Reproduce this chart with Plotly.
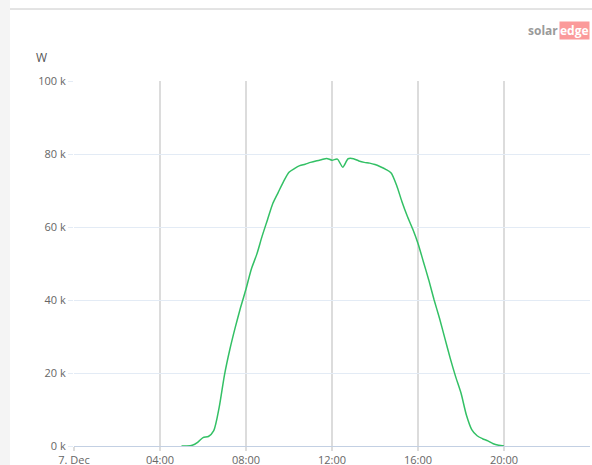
import plotly.graph_objects as go

# Hours of the day (7 Dec), 15-minute samples
hours = [5.00, 5.25, 5.50, 5.75, 6.00, 6.25, 6.50, 6.75, 7.00, 7.25, 7.50, 7.75,
         8.00, 8.25, 8.50, 8.75, 9.00, 9.25, 9.50, 9.75, 10.00, 10.25, 10.50, 10.75,
         11.00, 11.25, 11.50, 11.75, 12.00, 12.25, 12.50, 12.75, 13.00, 13.25, 13.50, 13.75,
         14.00, 14.25, 14.50, 14.75, 15.00, 15.25, 15.50, 15.75, 16.00, 16.25, 16.50, 16.75,
         17.00, 17.25, 17.50, 17.75, 18.00, 18.25, 18.50, 18.75, 19.00, 19.25, 19.50, 19.75, 20.00]
# Power in W
power_w = [0, 0, 200, 1000, 2300, 2600, 4200, 10500, 19500, 26500, 32500, 38000,
           43000, 48500, 52500, 57500, 62000, 66500, 69500, 72500, 75000, 76000, 76800, 77200,
           77700, 78100, 78400, 78800, 78300, 78600, 76400, 78700, 78700, 78100, 77700, 77500,
           77100, 76500, 75800, 74800, 71500, 67000, 63000, 59500, 55500, 50500, 45500, 40000,
           35000, 29500, 24000, 19000, 14500, 8500, 4500, 2800, 2000, 1400, 600, 200, 0]

x_tick_vals = [0, 4, 8, 12, 16, 20]
x_tick_text = ["7. Dec", "04:00", "08:00", "12:00", "16:00", "20:00"]
y_tick_vals = [0, 20000, 40000, 60000, 80000, 100000]
y_tick_text = ["0 k", "20 k", "40 k", "60 k", "80 k", "100 k"]

W, H = 592, 465
L, R, T, B = 74, 2, 81, 19
pw, ph = W - L - R, H - T - B

def px_x(p):
    return (p - L) / pw

def px_y(p):
    return (H - B - p) / ph

fig = go.Figure()
fig.add_trace(go.Scatter(
    x=hours, y=power_w, mode="lines",
    line=dict(color="#33c065", width=1.5, shape="spline", smoothing=0.7),
    hoverinfo="skip", showlegend=False,
))

font = "Open Sans, Lato, DejaVu Sans, sans-serif"

fig.update_layout(
    width=W, height=H,
    margin=dict(l=L, r=R, t=T, b=B, pad=0, autoexpand=False),
    paper_bgcolor="white", plot_bgcolor="white",
    font=dict(family=font, size=11, color="#666666"),
    xaxis=dict(
        range=[0, 24], tickvals=x_tick_vals, ticktext=x_tick_text,
        showgrid=True, gridcolor="#dcdcdc", gridwidth=2,
        ticks="outside", ticklen=4, tickwidth=2, tickcolor="#dcdcdc",
        showline=True, linecolor="#c3d0e3", linewidth=1,
        zeroline=False, tickfont=dict(size=11, color="#666666"),
        automargin=False, fixedrange=True,
    ),
    yaxis=dict(
        range=[0, 100000], tickvals=y_tick_vals, ticktext=y_tick_text,
        showgrid=True, gridcolor="#e3ebf5", gridwidth=1,
        ticks="outside", ticklen=5, tickcolor="#e3ebf5",
        zeroline=False, showline=False,
        tickfont=dict(size=11, color="#666666"),
        automargin=False, fixedrange=True,
    ),
    shapes=[
        dict(type="rect", xref="paper", yref="paper",
             x0=px_x(0), x1=px_x(10), y0=px_y(H), y1=px_y(0),
             fillcolor="#f4f4f4", line=dict(width=0), layer="below"),
        dict(type="line", xref="paper", yref="paper",
             x0=px_x(10), x1=px_x(W), y0=px_y(9), y1=px_y(9),
             line=dict(color="#c8c8c8", width=1)),
    ],
    annotations=[
        dict(text="W", xref="paper", yref="paper", x=px_x(41), y=px_y(58),
             showarrow=False, font=dict(size=12, color="#555555"),
             xanchor="center", yanchor="middle"),
        dict(text="<b>solar</b>", xref="paper", yref="paper", x=px_x(559), y=px_y(31),
             showarrow=False, font=dict(size=12, color="#9a9a9a"),
             xanchor="right", yanchor="middle", borderpad=0),
        dict(text="<b>edge</b>", xref="paper", yref="paper", x=px_x(559), y=px_y(31),
             showarrow=False, font=dict(size=12, color="#ffffff"),
             bgcolor="#fb9a9a", borderpad=0,
             xanchor="left", yanchor="middle"),
    ],
)

fig.write_html(
    "out.html",
    config={"displayModeBar": False, "staticPlot": True},
    post_script="document.body.style.margin='0';document.body.style.overflow='hidden';",
)
